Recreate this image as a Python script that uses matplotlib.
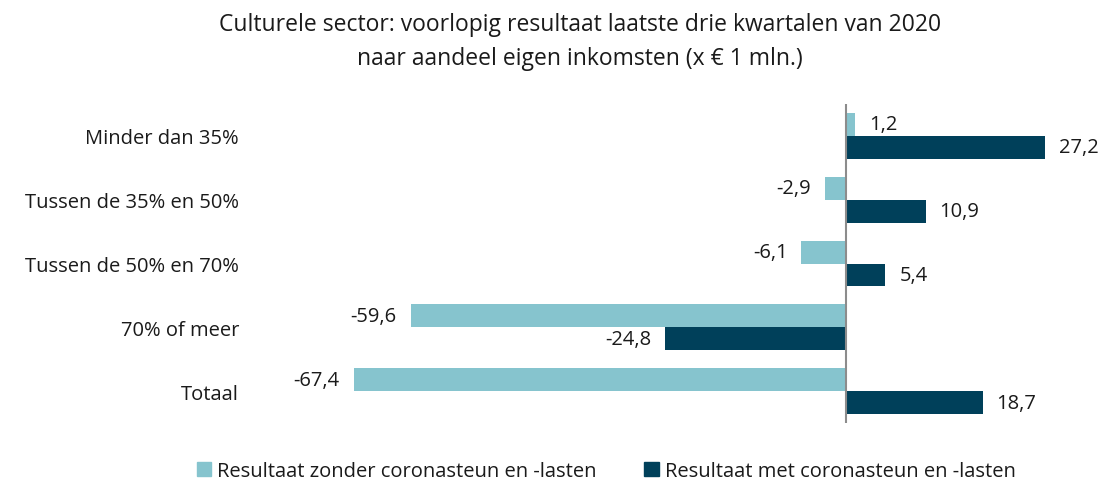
import numpy as np
import matplotlib.pyplot as plt
from matplotlib.patches import Patch

plt.rcParams['font.family'] = ['Open Sans', 'DejaVu Sans']

categories = ['Minder dan 35%', 'Tussen de 35% en 50%', 'Tussen de 50% en 70%',
              '70% of meer', 'Totaal']
zonder = [1.2, -2.9, -6.1, -59.6, -67.4]
met = [27.2, 10.9, 5.4, -24.8, 18.7]
series_names = ['Resultaat zonder coronasteun en -lasten',
                'Resultaat met coronasteun en -lasten']
colors = ['#86c4ce', '#00405a']

fig = plt.figure(figsize=(11.04, 4.81), dpi=100)
ax = fig.add_axes([250/1104, 57/481, 840/1104, 319/481])

y = np.arange(len(categories))
h = 0.36
ax.barh(y - h/2, zonder, height=h, color=colors[0], label=series_names[0])
ax.barh(y + h/2, met, height=h, color=colors[1], label=series_names[1])

def fmt(v):
    return f'{v:.1f}'.replace('.', ',')

for yy, vals in [(y - h/2, zonder), (y + h/2, met)]:
    for yi, v in zip(yy, vals):
        if v >= 0:
            ax.annotate(fmt(v), (v, yi), xytext=(10, 0), textcoords='offset points',
                        ha='left', va='center', fontsize=14.5, color='#1a1a1a')
        else:
            ax.annotate(fmt(v), (v, yi), xytext=(-10, 0), textcoords='offset points',
                        ha='right', va='center', fontsize=14.5, color='#1a1a1a')

ax.set_xlim(-81.6, 33.4)
ax.set_ylim(len(categories) - 0.5, -0.5)
ax.set_yticks(y)
ax.set_yticklabels(categories, fontsize=14.5, color='#1a1a1a')
ax.tick_params(axis='y', length=0, pad=8)
ax.set_xticks([])
for s in ['top', 'right', 'bottom', 'left']:
    ax.spines[s].set_visible(False)
ax.axvline(0, color='#8c8c8c', lw=1.5)

fig.suptitle('Culturele sector: voorlopig resultaat laatste drie kwartalen van 2020\n'
             'naar aandeel eigen inkomsten (x € 1 mln.)',
             x=580/1104, y=0.972, fontsize=16.5, linespacing=1.55, color='#1a1a1a')

handles = [Patch(color=c) for c in colors]
fig.legend(handles, series_names, loc='center', bbox_to_anchor=(606/1104, 1 - 472/481),
           ncol=2, frameon=False, fontsize=14.5, handlelength=0.7, handleheight=0.7,
           handletextpad=0.3, columnspacing=2.4, labelcolor='#1a1a1a')

fig.savefig('out.png', dpi=100)
